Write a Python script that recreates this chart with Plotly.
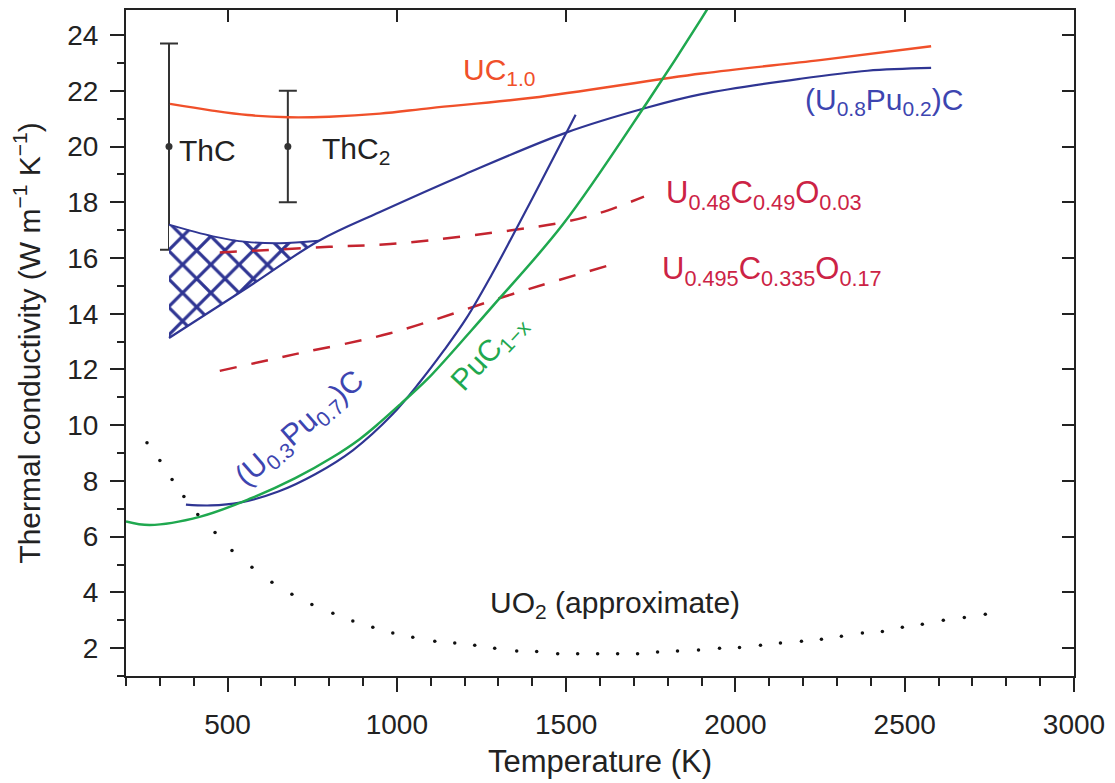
import plotly.graph_objects as go

# ---------------- data ----------------
T_UC = [330, 450, 560, 680, 800, 950, 1100, 1400, 1900, 2250, 2578]
k_UC = [21.53, 21.30, 21.13, 21.05, 21.07, 21.18, 21.38, 21.75, 22.62, 23.10, 23.60]

T_U8 = [327, 560, 770, 950, 1200, 1500, 1740, 1900, 2190, 2390, 2578]
k_U8 = [13.13, 14.95, 16.62, 17.65, 19.00, 20.50, 21.40, 21.88, 22.43, 22.72, 22.82]

T_U8_top = [327, 457, 557, 654, 770]
k_U8_top = [17.20, 16.78, 16.58, 16.53, 16.62]

T_U3 = [377, 450, 536, 650, 760, 870, 988, 1068, 1140, 1206, 1280, 1342, 1420, 1501, 1528]
k_U3 = [7.15, 7.12, 7.22, 7.62, 8.25, 9.10, 10.40, 11.55, 12.70, 13.85, 15.40, 16.80, 18.60, 20.50, 21.14]

T_Pu = [200, 270, 420, 570, 700, 810, 890, 950, 1010, 1090, 1220, 1285, 1490, 1740, 1900, 1960]
k_Pu = [6.55, 6.42, 6.72, 7.38, 8.10, 8.85, 9.50, 10.10, 10.75, 11.65, 13.40, 14.30, 17.20, 21.60, 24.60, 25.80]

T_D1 = [477, 800, 980, 1200, 1490, 1600, 1730]
k_D1 = [16.20, 16.40, 16.50, 16.78, 17.28, 17.62, 18.20]

T_D2 = [477, 700, 980, 1340, 1630]
k_D2 = [11.95, 12.55, 13.30, 14.70, 15.75]

T_UO2 = [262, 300, 336, 371, 412, 463, 513, 572, 631, 690, 749, 811, 870, 929, 988,
         1047, 1112, 1171, 1230, 1289, 1354, 1413, 1475, 1534, 1593, 1652, 1711, 1770,
         1829, 1891, 1953, 2012, 2074, 2133, 2195, 2254, 2313, 2375, 2434, 2493, 2552,
         2614, 2676, 2738]
k_UO2 = [9.37, 8.73, 8.05, 7.44, 6.80, 6.15, 5.50, 4.90, 4.36, 3.93, 3.57, 3.25, 2.97, 2.75, 2.54,
         2.39, 2.25, 2.18, 2.10, 2.00, 1.90, 1.88, 1.80, 1.80, 1.80, 1.80, 1.80, 1.86,
         1.90, 1.93, 2.00, 2.02, 2.10, 2.18, 2.25, 2.32, 2.43, 2.54, 2.60, 2.75, 2.86,
         3.00, 3.10, 3.22]

Th_T = [327, 678]
Th_k = [20.0, 20.0]
Th_err = [3.7, 2.0]

x_ticks = [500, 1000, 1500, 2000, 2500, 3000]
y_ticks = [2, 4, 6, 8, 10, 12, 14, 16, 18, 20, 22, 24]

# ---------------- styles ----------------
FONT = "Arial, Liberation Sans, Helvetica, sans-serif"
C_UC = "#f0502a"
C_BLUE = "#2f3593"
C_BLUE_T = "#3d45b0"
C_GREEN = "#1fa84f"
C_DASH = "#c4242f"
C_DASH_T = "#cc2345"
C_AX = "#222222"
ANN_SIZE = 30

fig = go.Figure()

# error bars (ThC, ThC2)
fig.add_trace(go.Scatter(
    x=Th_T, y=Th_k, mode="markers",
    marker=dict(size=7, color="#333333"),
    error_y=dict(type="data", array=Th_err, visible=True, color="#333333", thickness=2, width=9),
    showlegend=False, hoverinfo="skip"))

# hatched band of (U0.8Pu0.2)C
lower_T = [t for t in T_U8 if t <= 770]
lower_k = k_U8[:len(lower_T)]
poly_T = T_U8_top + lower_T[::-1]
poly_k = k_U8_top + lower_k[::-1]
fig.add_trace(go.Scatter(
    x=poly_T, y=poly_k, mode="lines", fill="toself",
    line=dict(width=0, color=C_BLUE),
    fillcolor="white",
    fillpattern=dict(shape="x", fgcolor=C_BLUE, bgcolor="white", fgopacity=1,
                     size=20, solidity=0.3),
    showlegend=False, hoverinfo="skip"))
fig.add_trace(go.Scatter(x=T_U8_top, y=k_U8_top, mode="lines", line=dict(color=C_BLUE, width=1.8, shape="spline"),
                         showlegend=False, hoverinfo="skip"))

# dashed oxycarbides
fig.add_trace(go.Scatter(x=T_D1, y=k_D1, mode="lines",
                         line=dict(color=C_DASH, width=2.5, dash="17px,15px", shape="spline"),
                         showlegend=False, hoverinfo="skip"))
fig.add_trace(go.Scatter(x=T_D2, y=k_D2, mode="lines",
                         line=dict(color=C_DASH, width=2.5, dash="17px,15px", shape="spline"),
                         showlegend=False, hoverinfo="skip"))

# UO2 dotted
fig.add_trace(go.Scatter(x=T_UO2, y=k_UO2, mode="markers",
                         marker=dict(size=3.5, color="#111111"),
                         showlegend=False, hoverinfo="skip"))

# solid curves
fig.add_trace(go.Scatter(x=T_UC, y=k_UC, mode="lines", line=dict(color=C_UC, width=2.4, shape="spline"),
                         showlegend=False, hoverinfo="skip"))
fig.add_trace(go.Scatter(x=T_U8, y=k_U8, mode="lines", line=dict(color=C_BLUE, width=2.2, shape="spline"),
                         showlegend=False, hoverinfo="skip"))
fig.add_trace(go.Scatter(x=T_U3, y=k_U3, mode="lines", line=dict(color=C_BLUE, width=2.2, shape="spline"),
                         showlegend=False, hoverinfo="skip"))
fig.add_trace(go.Scatter(x=T_Pu, y=k_Pu, mode="lines", line=dict(color=C_GREEN, width=2.5, shape="spline"),
                         showlegend=False, hoverinfo="skip"))

# ---------------- annotations ----------------
def ann(text, x, y, color, xanchor="center", angle=0, size=ANN_SIZE):
    fig.add_annotation(x=x, y=y, text=text, showarrow=False, xanchor=xanchor, yanchor="middle",
                       textangle=angle, font=dict(family=FONT, size=size, color=color))

ann("UC<sub>1.0</sub>", 1304, 22.7, C_UC)
ann("(U<sub>0.8</sub>Pu<sub>0.2</sub>)C", 2440, 21.62, C_BLUE_T)
ann("ThC", 350, 19.85, "#222222", xanchor="left")
ann("ThC<sub>2</sub>", 772, 19.85, "#222222", xanchor="left")
ann("U<sub>0.48</sub>C<sub>0.49</sub>O<sub>0.03</sub>", 1790, 18.25, C_DASH_T, xanchor="left", size=31)
ann("U<sub>0.495</sub>C<sub>0.335</sub>O<sub>0.17</sub>", 1776, 15.55, C_DASH_T, xanchor="left", size=31)
ann("PuC<sub>1−x</sub>", 1274, 12.6, C_GREEN, angle=-47)
ann("(U<sub>0.3</sub>Pu<sub>0.7</sub>)C", 713, 9.85, C_BLUE_T, angle=-41)
ann("UO<sub>2</sub> (approximate)", 1643, 3.55, "#222222")

# ---------------- axes ----------------
axis_common = dict(showline=True, linecolor=C_AX, linewidth=2, showgrid=False, zeroline=False,
                   ticks="outside", tickcolor=C_AX, tickwidth=2, ticklen=14,
                   tickfont=dict(family=FONT, size=28, color="#222222"))

fig.update_layout(
    width=1115, height=783,
    margin=dict(l=126, r=40, t=10, b=105),
    paper_bgcolor="white", plot_bgcolor="white",
    showlegend=False,
    xaxis=dict(range=[200, 3000], tickvals=x_ticks,
               minor=dict(dtick=100, ticks="outside", ticklen=8, tickcolor=C_AX, tickwidth=2),
               ticklabelstandoff=8,
               title=dict(text="Temperature (K)", font=dict(family=FONT, size=31, color="#222222"), standoff=12),
               **axis_common),
    yaxis=dict(range=[1, 24.9], tickvals=y_ticks,
               minor=dict(dtick=1, ticks="outside", ticklen=7, tickcolor=C_AX, tickwidth=2),
               ticklabelstandoff=6,
               title=dict(text="Thermal conductivity (W m<sup>−1</sup> K<sup>−1</sup>)",
                          font=dict(family=FONT, size=30, color="#222222"), standoff=18),
               **axis_common),
    xaxis2=dict(overlaying="x", side="top", anchor="y", range=[200, 3000], tickvals=x_ticks,
                showticklabels=False, showline=True, linecolor=C_AX, linewidth=2, showgrid=False,
                zeroline=False, ticks="inside", ticklen=12, tickwidth=2, tickcolor=C_AX),
    yaxis2=dict(overlaying="y", side="right", anchor="x", range=[1, 24.9], tickvals=y_ticks,
                showticklabels=False, showline=True, linecolor=C_AX, linewidth=2, showgrid=False,
                zeroline=False, ticks="inside", ticklen=12, tickwidth=2, tickcolor=C_AX),
)

# invisible trace to make sure the overlay axes render
fig.add_trace(go.Scatter(x=[None], y=[None], xaxis="x2", yaxis="y2", showlegend=False, hoverinfo="skip"))

fig.write_html("out.html")
